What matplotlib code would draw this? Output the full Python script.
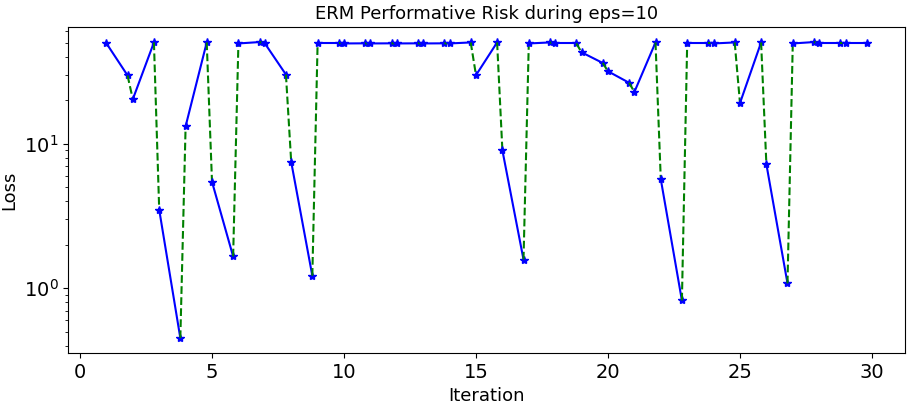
import matplotlib
matplotlib.use("Agg")
import matplotlib.pyplot as plt
import numpy as np

# loss at start of each iteration (x = k) and after the update (x = k + 0.8)
iteraciones = np.arange(1, 30)
loss_inicio = [49.5, 20.3, 3.49, 13.2, 5.45, 49.4, 49.5, 7.48, 49.4, 49.4,
               49.4, 49.4, 49.4, 49.4, 29.8, 9.0, 49.4, 49.4, 42.9, 31.7,
               22.8, 5.68, 49.4, 49.4, 19.1, 7.21, 49.4, 49.4, 49.4]
loss_fin = [29.7, 50.2, 0.452, 50.2, 1.66, 50.5, 30.1, 1.22, 49.4, 49.5,
            49.5, 49.5, 49.5, 50.2, 50.2, 1.58, 50.2, 49.4, 36.2, 26.4,
            50.2, 0.823, 49.4, 50.2, 50.2, 1.08, 50.5, 49.4, 49.4]

plt.rcParams['font.size'] = 13

fig, ax = plt.subplots(figsize=(9.12, 4.07), dpi=100)

for i, k in enumerate(iteraciones):
    ax.plot([k, k + 0.8], [loss_inicio[i], loss_fin[i]], 'b*-')
    if i < len(iteraciones) - 1:
        ax.plot([k + 0.8, k + 1], [loss_fin[i], loss_inicio[i + 1]], 'g--')

ax.set_yscale('log')
ax.set_xlabel("Iteration", fontsize=13)
ax.set_ylabel("Loss", fontsize=13)
ax.set_title("ERM Performative Risk during eps=10", fontsize=13)
ax.set_xticks([0, 5, 10, 15, 20, 25, 30])
ax.tick_params(labelsize=14)

fig.subplots_adjust(left=0.075, right=0.992, top=0.933, bottom=0.133)
fig.savefig("out.png")
